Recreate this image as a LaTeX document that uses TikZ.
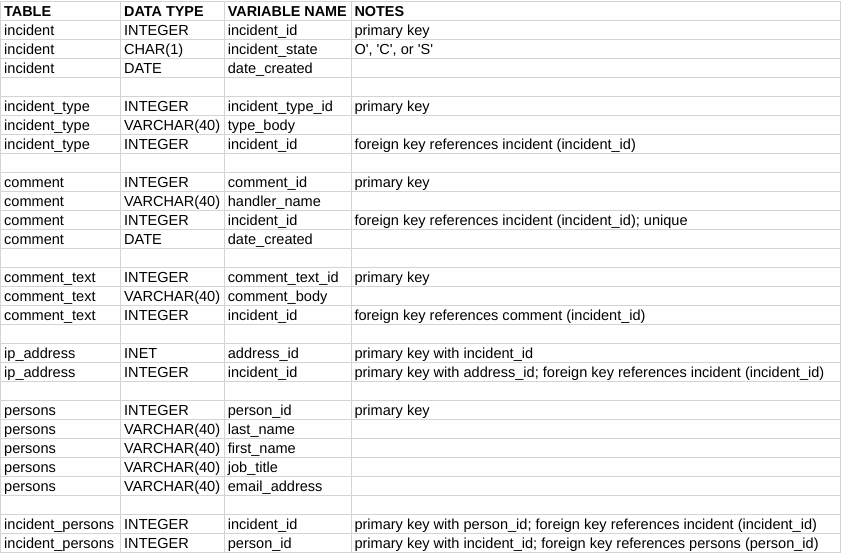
\documentclass[tikz,border=0pt]{standalone}
\usepackage{fontspec}
\newfontfamily\cellfont{Liberation Sans}
\definecolor{gridgray}{RGB}{212,212,212}
\tikzset{
  cell/.style={anchor=base west, inner sep=0pt, font=\cellfont\fontsize{14.55}{17}\selectfont, text=black},
  head/.style={cell, font=\cellfont\bfseries\fontsize{14.4}{17}\selectfont},
  gridline/.style={draw=gridgray, line width=1pt}
}
\newcommand\rowy[1]{{19.02*(#1+1)-2.6}}
\newcommand\tabrow[4]{%
  \node[cell] (t#1) at (4,\rowy{#1}) {#2};
  \node[cell] (d#1) at (124,\rowy{#1}) {#3};
  \node[cell] (v#1) at (227.7,\rowy{#1}) {#4};}
\newcommand\noteat[2]{\node[cell] (n#1) at (354.3,\rowy{#1}) {#2};}
\begin{document}
\begin{tikzpicture}[x=1pt,y=-1pt]
\useasboundingbox (0,0) rectangle (843,555);
\fill[white] (0,0) rectangle (843,555);
% grid
\foreach \k in {0,...,29}
  \draw[gridline] (0.5,{1+19.02*\k}) -- (840.7,{1+19.02*\k});
\foreach \cx in {0.5,120.7,224.3,351.7,840.7}
  \draw[gridline] (\cx,1) -- (\cx,552.6);
% header
\node[head] (h1) at (4,\rowy{0}) {TABLE};
\node[head] (h2) at (124,\rowy{0}) {DATA TYPE};
\node[head] (h3) at (227.7,\rowy{0}) {VARIABLE NAME};
\node[head] (h4) at (354.3,\rowy{0}) {NOTES};
% incident
\tabrow{1}{incident}{INTEGER}{incident\_id}
\noteat{1}{primary key}
\tabrow{2}{incident}{CHAR(1)}{incident\_state}
\noteat{2}{O\textquotesingle, \textquotesingle C\textquotesingle, or \textquotesingle S\textquotesingle}
\tabrow{3}{incident}{DATE}{date\_created}
% incident_type
\tabrow{5}{incident\_type}{INTEGER}{incident\_type\_id}
\noteat{5}{primary key}
\tabrow{6}{incident\_type}{VARCHAR(40)}{type\_body}
\tabrow{7}{incident\_type}{INTEGER}{incident\_id}
\noteat{7}{foreign key references incident (incident\_id)}
% comment
\tabrow{9}{comment}{INTEGER}{comment\_id}
\noteat{9}{primary key}
\tabrow{10}{comment}{VARCHAR(40)}{handler\_name}
\tabrow{11}{comment}{INTEGER}{incident\_id}
\noteat{11}{foreign key references incident (incident\_id); unique}
\tabrow{12}{comment}{DATE}{date\_created}
% comment_text
\tabrow{14}{comment\_text}{INTEGER}{comment\_text\_id}
\noteat{14}{primary key}
\tabrow{15}{comment\_text}{VARCHAR(40)}{comment\_body}
\tabrow{16}{comment\_text}{INTEGER}{incident\_id}
\noteat{16}{foreign key references comment (incident\_id)}
% ip_address
\tabrow{18}{ip\_address}{INET}{address\_id}
\noteat{18}{primary key with incident\_id}
\tabrow{19}{ip\_address}{INTEGER}{incident\_id}
\noteat{19}{primary key with address\_id; foreign key references incident (incident\_id)}
% persons
\tabrow{21}{persons}{INTEGER}{person\_id}
\noteat{21}{primary key}
\tabrow{22}{persons}{VARCHAR(40)}{last\_name}
\tabrow{23}{persons}{VARCHAR(40)}{first\_name}
\tabrow{24}{persons}{VARCHAR(40)}{job\_title}
\tabrow{25}{persons}{VARCHAR(40)}{email\_address}
% incident_persons
\tabrow{27}{incident\_persons}{INTEGER}{incident\_id}
\noteat{27}{primary key with person\_id; foreign key references incident (incident\_id)}
\tabrow{28}{incident\_persons}{INTEGER}{person\_id}
\noteat{28}{primary key with incident\_id; foreign key references persons (person\_id)}
\end{tikzpicture}
\end{document}
